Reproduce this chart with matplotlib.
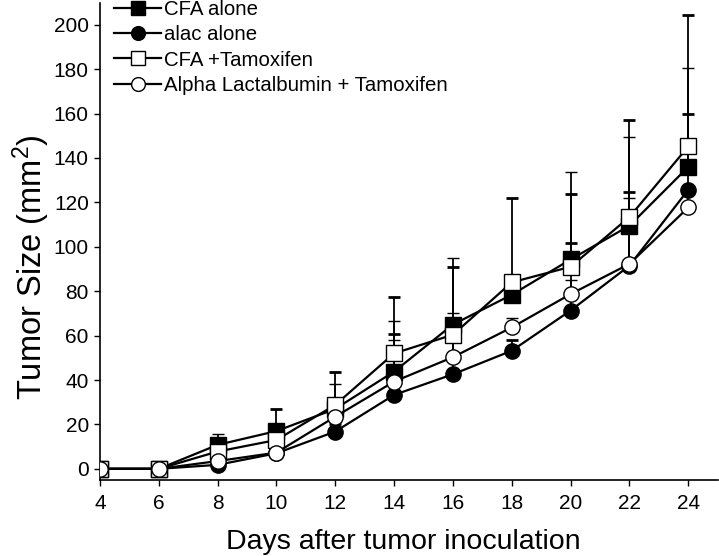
import numpy as np
import matplotlib
matplotlib.use('Agg')
import matplotlib.pyplot as plt

plt.rcParams['font.family'] = ['Liberation Sans', 'DejaVu Sans']
plt.rcParams['mathtext.fontset'] = 'custom'
plt.rcParams['mathtext.rm'] = 'Liberation Sans'
plt.rcParams['mathtext.default'] = 'regular'

# data
days = [4, 6, 8, 10, 12, 14, 16, 18, 20, 22, 24]

cfa_alone = [0, 0, 10.8, 17, 27, 43.8, 65, 78.4, 94.3, 109.5, 136]
cfa_alone_up = [0, 0, 12.6, 26.9, 43.8, 77.6, 90.9, 122.2, 123.7, 157.2, 204.2]

alac_alone = [0, 0, 1.8, 7, 16.8, 33.3, 42.6, 53.2, 71.3, 91.5, 125.7]
alac_alone_up = [0, 0, 2.5, 8, 20, 60.6, 68, 58, 101.7, 124.5, 159.9]

cfa_tam = [0, 0, 7.8, 13, 28.8, 52, 60.4, 84, 91, 113.4, 145.2]
cfa_tam_up = [0, 0, 15.6, 18, 38.1, 66.8, 94.9, 87, 133.6, 149.4, 180.4]

alpha_tam = [0, 0, 3.5, 7.3, 23.5, 39.3, 50.3, 63.7, 78.7, 92.3, 117.7]
alpha_tam_up = [0, 0, 5.8, 9, 26, 58, 70, 68, 85, 121.9, 124]

labels = ['CFA alone', 'alac alone', 'CFA +Tamoxifen', 'Alpha Lactalbumin + Tamoxifen']

fig = plt.figure(figsize=(7.19, 5.56), dpi=100)
ax = fig.add_axes([0.139, 0.137, 0.860, 0.858])

series = [
    (cfa_alone, cfa_alone_up, 's', 'black', 2.0),
    (alac_alone, alac_alone_up, 'o', 'black', 2.0),
    (cfa_tam, cfa_tam_up, 's', 'white', 1.0),
    (alpha_tam, alpha_tam_up, 'o', 'white', 1.0),
]

handles = []
for (vals, up, mk, fc, ew), lab in zip(series, labels):
    v = np.array(vals)
    err = np.array(up) - v
    ax.errorbar(days, v, yerr=[np.zeros_like(v), err], fmt='none',
                ecolor='black', elinewidth=1.3, capsize=4.6, capthick=ew, zorder=2)
    h, = ax.plot(days, v, color='black', lw=1.6, marker=mk, ms=11,
                 mfc=fc, mec='black', mew=1.0, label=lab, zorder=3)
    handles.append(h)

ax.set_xlim(4, 25.02)
ax.set_ylim(-4.95, 209.9)
ax.set_xticks(range(4, 25, 2))
ax.set_yticks(range(0, 201, 20))
ax.spines['top'].set_visible(False)
ax.spines['right'].set_visible(False)
ax.spines['left'].set_linewidth(1.2)
ax.spines['bottom'].set_linewidth(1.2)
ax.tick_params(direction='out', length=4.5, width=1.0, labelsize=15)
ax.tick_params(axis='x', pad=5.5)
ax.tick_params(axis='y', pad=3.5)

ax.set_xlabel('Days after tumor inoculation', fontsize=20.5)
ax.set_ylabel('Tumor Size (mm$^2$)', fontsize=23.5)
ax.xaxis.set_label_coords(0.49, -0.103)
ax.yaxis.set_label_coords(-0.077, 0.445)

ax.legend(handles=handles, loc='upper left', bbox_to_anchor=(0.0, 1.035),
          frameon=False, fontsize=14.7, handlelength=2.3, handletextpad=0.15,
          labelspacing=0.3, borderaxespad=0.3, markerscale=0.9)

plt.savefig('out.png', dpi=100)
